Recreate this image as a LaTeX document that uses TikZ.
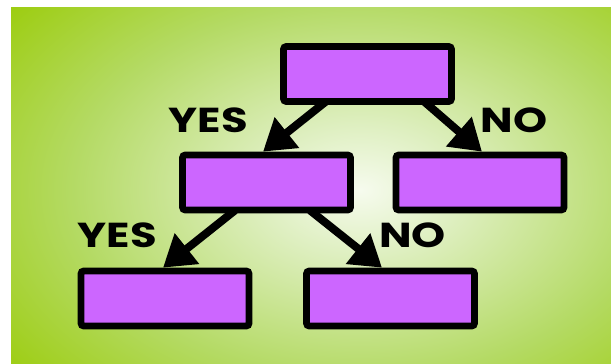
\documentclass[tikz,border=0pt]{standalone}
\usepackage{fontspec}
\usepackage{xcolor}
\usepackage{tikz}
\usetikzlibrary{arrows.meta}
\newfontfamily\answerfont{Poppins}
\definecolor{boxfill}{RGB}{204,102,255}
\definecolor{leafgreen}{RGB}{155,204,10}
\definecolor{glowa}{RGB}{246,251,238}
\definecolor{glowb}{RGB}{222,239,192}
\definecolor{glowc}{RGB}{180,218,100}
\pgfdeclareradialshading{bgglow}{\pgfpoint{0bp}{0bp}}{color(0bp)=(glowa);
  color(7bp)=(glowb); color(20bp)=(glowc); color(32bp)=(leafgreen); color(50bp)=(leafgreen)}
\tikzset{
  arr/.style={-{Triangle[length=23pt,width=28pt]}, line width=6pt, draw=black},
  qbox/.style={draw=black, line width=5pt, fill=boxfill, rounded corners=2pt,
    minimum width=126pt, minimum height=41.25pt, inner sep=0pt},
  ans/.style={font=\answerfont\bfseries\fontsize{26}{26}\selectfont, inner sep=0pt,
    xscale=1.25, transform shape}
}

\begin{document}
\begin{tikzpicture}[x=0.75pt, y=-0.75pt]
\useasboundingbox (0,0) rectangle (611,364);
\fill[white] (0,0) rectangle (611,364);
% ---- background panel ----
\begin{scope}
  \clip (11,7) rectangle (611,364);
  \shade[shading=bgglow] (0,-45) rectangle (720,425);
\end{scope}
% ---- decision boxes ----
\node[qbox] (qtop)    at (367.5,74)    {};
\node[qbox] (qyes)    at (266.5,182.5) {};
\node[qbox] (qno)     at (480,182.5)   {};
\node[qbox] (qyesyes) at (165,298.5)   {};
\node[qbox] (qyesno)  at (390.5,298.5) {};
% ---- answers ----
\node[ans] (ayes)  at (208.5,120.5) {YES};
\node[ans] (ano)   at (514,120)     {NO};
\node[ans] (ayes2) at (117.5,235.5) {YES};
\node[ans] (ano2)  at (412.5,235.5) {NO};
% ---- arrows ----
\draw[arr] ([shift={(-42,-3)}]qtop.south) -- ([shift={(-3.5,0)}]qyes.north);
\draw[arr] ([shift={(57,-3)}]qtop.south) -- ([shift={(2,0)}]qno.north);
\draw[arr] ([shift={(-31.5,-3)}]qyes.south) -- ([shift={(-2,0)}]qyesyes.north);
\draw[arr] ([shift={(43.5,-3)}]qyes.south) -- ([shift={(-8.5,0)}]qyesno.north);
\end{tikzpicture}
\end{document}
